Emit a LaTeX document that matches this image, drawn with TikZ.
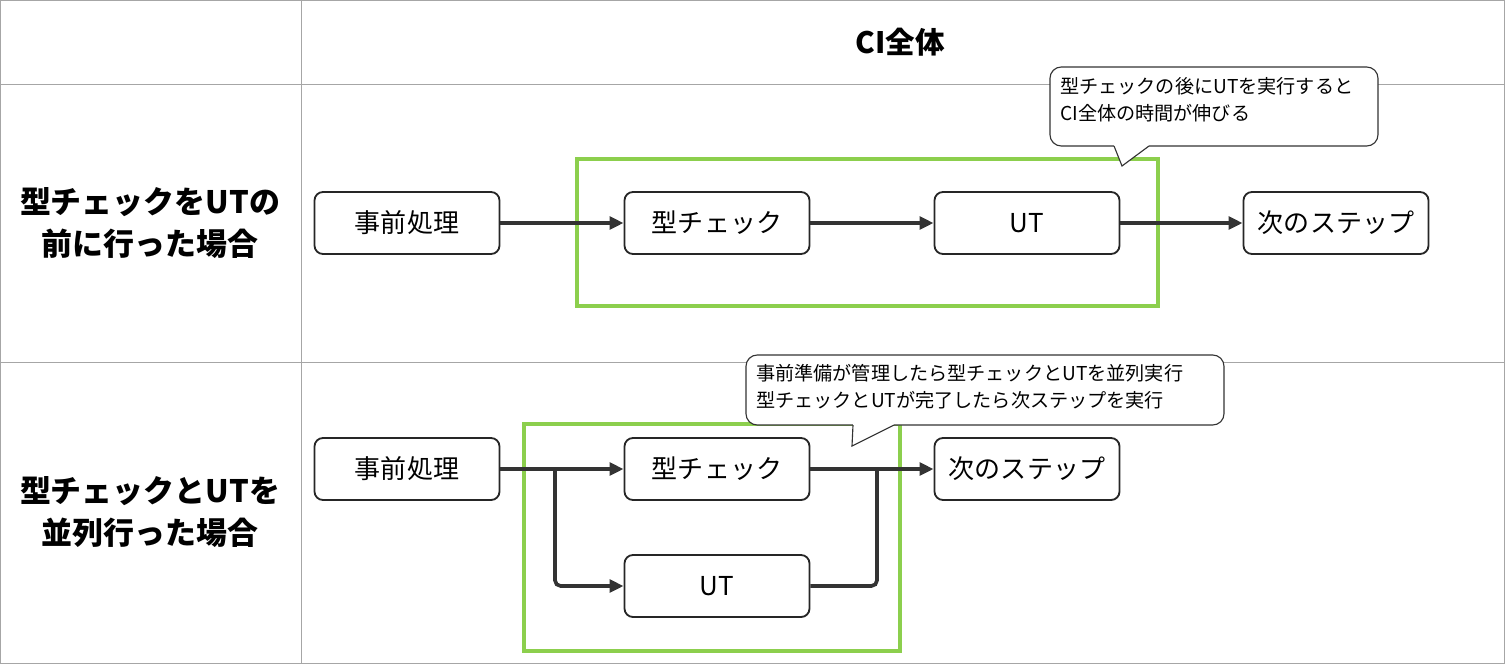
\documentclass[tikz,border=0pt]{standalone}
\usepackage{fontspec}
\setmainfont{Noto Sans CJK JP}
\usetikzlibrary{arrows.meta}
\definecolor{gr}{HTML}{8CCF4D}
\begin{document}
\begin{tikzpicture}[x=0.025cm,y=-0.025cm,
 box/.style={draw=black!85,line width=1.3pt,rounded corners=6pt,minimum width=185*0.025cm,minimum height=62*0.025cm,font=\fontsize{18.5pt}{22pt}\selectfont,inner sep=0pt},
 arr/.style={draw=black!80,line width=2.6pt,-{Triangle[length=10pt,width=9pt]},rounded corners=4pt},
 grn/.style={draw=gr,line width=2.4pt},
 lab/.style={font=\fontsize{22pt}{30pt}\selectfont\bfseries,align=center},
 note/.style={font=\fontsize{13.6pt}{19pt}\selectfont,align=left,anchor=north west,inner sep=0pt}]
\useasboundingbox (0,0) rectangle (1505,664);
\fill[white] (0,0) rectangle (1505,664);
\draw[gray!70,line width=0.6pt] (0.5,0.5) rectangle (1504.5,663.5);
\draw[gray!70,line width=0.6pt] (301,0)--(301,664) (0,84)--(1505,84) (0,362)--(1505,362);
\node[font=\fontsize{21pt}{24pt}\selectfont\bfseries] (hd) at (900,42) {CI全体};
\node[lab] (l1) at (150,223) {型チェックをUTの\\前に行った場合};
\node[lab] (l2) at (150,512) {型チェックとUTを\\並列行った場合};
% row 1
\draw[grn] (577,159) rectangle (1158,306);
\node[box] (a1) at (407,223) {事前処理};
\node[box] (b1) at (717,223) {型チェック};
\node[box] (c1) at (1027,223) {UT};
\node[box] (d1) at (1336,223) {次のステップ};
\draw[arr] (a1)--(b1);
\draw[arr] (b1)--(c1);
\draw[arr] (c1)--(d1);
\draw[black!80,line width=0.8pt,fill=white,rounded corners=8pt] (1050,67) rectangle (1378,146);
\fill[white] (1114,144) rectangle (1149,148);
\draw[black!80,line width=0.8pt,fill=white] (1114,146)--(1122,166)--(1149,146);
\node[note] (n1) at (1060,77) {型チェックの後にUTを実行すると\\CI全体の時間が伸びる};
% row 2
\draw[grn] (524,424) rectangle (900,651);
\node[box] (a2) at (407,469) {事前処理};
\node[box] (b2) at (717,469) {型チェック};
\node[box] (c2) at (717,586) {UT};
\node[box] (d2) at (1027,469) {次のステップ};
\draw[arr] (a2)--(b2);
\draw[arr] (555,469)--(555,586)--(c2.west);
\draw[arr] (b2)--(d2);
\draw[black!80,line width=2.6pt,rounded corners=4pt] (c2.east)--(877,586)--(877,469);
\draw[black!80,line width=0.8pt,fill=white,rounded corners=8pt] (746,355) rectangle (1224,425);
\fill[white] (853,423) rectangle (894,427);
\draw[black!80,line width=0.8pt,fill=white] (853,425)--(852,446)--(894,425);
\node[note] (n2) at (756,364) {事前準備が管理したら型チェックとUTを並列実行\\型チェックとUTが完了したら次ステップを実行};
\end{tikzpicture}
\end{document}
